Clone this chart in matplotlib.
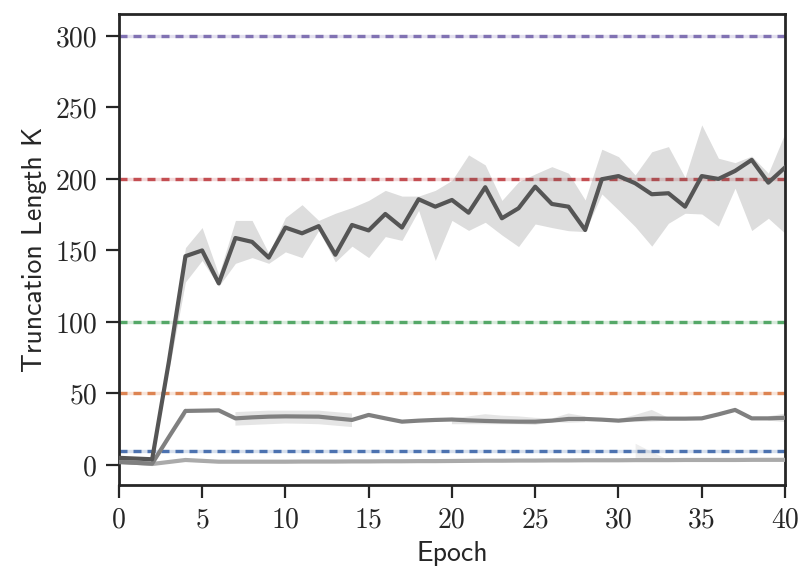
import numpy as np
import matplotlib
matplotlib.use("Agg")
import matplotlib.pyplot as plt

nan = np.nan

epochs = list(range(41))

# Fixed truncation lengths (reference levels)
fixed_K = [10, 50, 100, 200, 300]
fixed_colors = ["#4c72b0", "#dd8452", "#55a868", "#c44e52", "#8172b3"]

# Adaptive K, run A (dark)
k_dark = [5, 4.5, 4, 72, 146, 150, 127, 158.7, 156, 145,
          166, 162, 167, 147, 167.8, 164, 175.5, 166, 185.8, 180.6,
          185.3, 176.4, 194.2, 172.5, 179.5, 194.6, 182.5, 180.6, 164.3, 199.8,
          202, 197, 189.3, 190, 180.6, 202, 200, 205.6, 213.3, 197.4,
          208]
k_dark_lo = [nan, nan, nan, 66, 128, 143, 125, 141, 145, 141,
             149, 145, 164, 142, 153, 145, 159.7, 157, 178, 143,
             171, 164, 169.7, 160.8, 152.7, 168.5, 166, 163.8, 163.2, 189.5,
             178.3, 166.7, 153, 169, 176, 175.5, 167, 193.5, 163.9, 172.5,
             162]
k_dark_hi = [nan, nan, nan, 78, 152, 166, 133, 171, 171, 148,
             173, 182, 171, 176, 180, 185, 192, 188, 188, 192,
             199, 216.8, 209.8, 185, 198, 203.5, 208.6, 204, 185.3, 220.8,
             215.6, 202.8, 219, 222.6, 201, 237.8, 214.5, 211.4, 216, 204,
             232]

# Adaptive K, run B (medium)
k_mid = [2, 1.5, 1, 19.5, 37.8, 38, 38.2, 32.6, 33.3, 33.8,
         34, 33.9, 33.8, 32.6, 31.5, 35, 32.6, 30.3, 31, 31.5,
         31.8, 31.2, 30.8, 30.5, 30.3, 30.3, 31, 32.2, 32.2, 31.7,
         31, 32, 32.6, 32.4, 32.4, 32.6, 35.4, 38.5, 32.6, 32.6,
         33]
k_mid_lo = [nan, nan, nan, 18, 34, nan, nan, 27.5, 28, 28.5,
            29, 28.8, 28.5, 27.5, 26.5, nan, nan, nan, nan, nan,
            28.5, 28.5, 28.5, 28.5, 28.5, 28, 30, 29.5, 30, nan,
            30, 30, 30.3, 31, nan, nan, nan, nan, nan, 31,
            30]
k_mid_hi = [nan, nan, nan, 21, 40, nan, nan, 37, 37.5, 38,
            38, 38, 38, 37, 36, nan, nan, nan, nan, nan,
            32.5, 34, 35.5, 34.5, 34, 33, 32.5, 36, 34, nan,
            32, 35, 38.5, 33, nan, nan, nan, nan, nan, 34,
            36]

# Adaptive K, run C (light)
k_light = [2.3, 1.5, 0.7, 2.1, 3.5, 2.9, 2.3, 2.3, 2.3, 2.3,
           2.3, 2.4, 2.4, 2.4, 2.5, 2.5, 2.6, 2.6, 2.7, 2.7,
           2.8, 2.9, 3.0, 3.0, 3.1, 3.1, 3.2, 3.2, 3.3, 3.3,
           3.3, 3.4, 3.4, 3.4, 3.5, 3.5, 3.5, 3.5, 3.6, 3.6,
           3.6]
k_light_lo = [nan] * 31 + [3.0, 3.0, 3.2] + [nan] * 7
k_light_hi = [nan] * 31 + [15.2, 9.3, 3.6] + [nan] * 7

x_ticks = [0, 5, 10, 15, 20, 25, 30, 35, 40]
y_ticks = [0, 50, 100, 150, 200, 250, 300]

plt.rcParams.update({
    "axes.edgecolor": "#262626",
    "axes.linewidth": 1.0,
    "xtick.color": "#262626",
    "ytick.color": "#262626",
    "xtick.major.size": 4.8,
    "ytick.major.size": 4.8,
    "xtick.major.width": 0.8,
    "ytick.major.width": 0.8,
    "text.color": "#262626",
    "axes.labelcolor": "#262626",
})

fig = plt.figure(figsize=(803 / 200, 569 / 200), dpi=200)
ax = fig.add_axes([0.148, 0.1476, 0.8296, 0.827])

x = np.array(epochs)
for k, c in zip(fixed_K, fixed_colors):
    ax.axhline(k, color=c, lw=1.2, alpha=0.22, zorder=1)
    ax.axhline(k, color=c, lw=1.2, dashes=(2.4, 1.8), zorder=1.5)

series = [
    (k_light, k_light_lo, k_light_hi, "#aaaaaa"),
    (k_mid, k_mid_lo, k_mid_hi, "#808080"),
    (k_dark, k_dark_lo, k_dark_hi, "#555555"),
]
for y, lo, hi, c in series:
    ax.fill_between(x, np.array(lo, float), np.array(hi, float),
                    color=c, alpha=0.2, lw=0, zorder=2)
for y, lo, hi, c in series:
    ax.plot(x, y, color=c, lw=1.5, zorder=3)

ax.set_xlim(0, 40)
ax.set_ylim(-14, 315)
ax.set_xticks(x_ticks)
ax.set_yticks(y_ticks)
ax.tick_params(labelsize=10, labelfontfamily="cmr10", pad=3)
ax.set_xlabel("Epoch", fontsize=10, fontfamily="cmss10", labelpad=3)
ax.set_ylabel("Truncation Length K", fontsize=10, fontfamily="cmss10", labelpad=3)

fig.savefig("out.png", dpi=200)
